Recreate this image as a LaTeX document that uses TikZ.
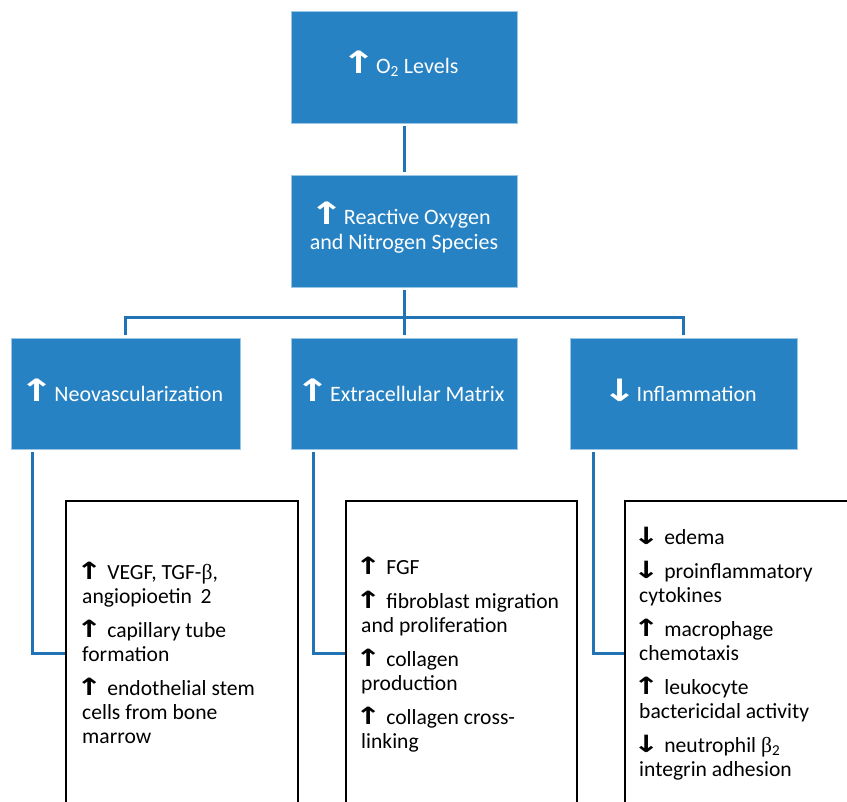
\documentclass[tikz,border=0pt]{standalone}
\usepackage{fontspec}
\setmainfont{Carlito}
\newfontfamily\arrfont{DejaVu Sans}
\newfontfamily\grkfont{Liberation Serif}
\definecolor{qqzzcc}{rgb}{0.15,0.51,0.76}
\definecolor{qqttbb}{rgb}{0.13,0.45,0.71}
\definecolor{ddeeff}{rgb}{0.6,0.78,0.9}
% arrows in the lists and in the blue boxes
\newcommand{\upar}{\kern-6pt\scalebox{1.45}[1.1]{\arrfont\bfseries ↑}}
\newcommand{\dnar}{\kern-6pt\scalebox{1.45}[1.1]{\arrfont\bfseries ↓}}
\newcommand{\bupar}{\kern-8pt\smash{\scalebox{1.9}[1.4]{\arrfont\bfseries ↑}}\kern-5.5pt}
\newcommand{\bdnar}{\kern-8pt\smash{\scalebox{1.9}[1.4]{\arrfont\bfseries ↓}}\kern-5.5pt}
\newcommand{\grkb}{{\grkfont β}}

\begin{document}
\begin{tikzpicture}[line cap=butt,line join=miter,x=1pt,y=-1pt,
  bluebox/.style={fill=qqzzcc,draw=ddeeff,line width=0.6pt,text=white,align=center,
    font=\fontsize{22}{25}\selectfont,inner sep=0pt,minimum height=112pt},
  listbox/.style={draw=black,line width=2.8pt,minimum height=330pt},
  listtxt/.style={anchor=north west,align=left,inner sep=0pt,
    font=\fontsize{21.6}{24}\selectfont},
  link/.style={color=qqttbb,line width=3pt,shorten <=3pt,shorten >=3pt}]
\clip(0,0) rectangle (847,802);
% blue boxes
\node[bluebox,minimum width=226pt] (o2) at (404,67) {\bupar\ O\textsubscript{2} Levels};
\node[bluebox,minimum width=226pt] (ros) at (404,231) {\bupar\ Reactive Oxygen\\and Nitrogen Species};
\node[bluebox,minimum width=229pt,minimum height=111pt] (neo) at (125.5,393.5) {\bupar\ Neovascularization};
\node[bluebox,minimum width=226pt,minimum height=111pt] (ecm) at (404,393.5) {\bupar\ Extracellular Matrix};
\node[bluebox,minimum width=227pt,minimum height=111pt] (infl) at (683.5,393.5) {\bdnar\ Inflammation};
% list boxes (run past the bottom edge)
\node[listbox,minimum width=232pt] (lbox) at (182,666) {};
\node[listbox,minimum width=231pt] (mbox) at (461.5,666) {};
\node[listbox,minimum width=245pt] (rbox) at (747.5,666) {};
\node[listtxt] (ltxt) at (82,562) {\upar\ VEGF, TGF-\grkb,\\angiopioetin\,\ 2\\[10pt]
  \upar\ capillary tube\\formation\\[10pt]
  \upar\ endothelial stem\\cells from bone\\marrow};
\node[listtxt] (mtxt) at (361,557) {\upar\ FGF\\[10pt]
  \upar\ fibroblast migration\\and proliferation\\[10pt]
  \upar\ collagen\\production\\[10pt]
  \upar\ collagen cross-\\linking};
\node[listtxt] (rtxt) at (639,527) {\dnar\ edema\\[10pt]
  \dnar\ proinflammatory\\cytokines\\[10pt]
  \upar\ macrophage\\chemotaxis\\[10pt]
  \upar\ leukocyte\\bactericidal activity\\[10pt]
  \dnar\ neutrophil \grkb\textsubscript{2}\\integrin adhesion};
% connectors
\coordinate (fork) at (404,318);
\draw[link] (o2) -- (ros);
\draw[link] (ros) -- (ecm);
\draw[link,shorten >=0pt] (neo.north) |- (fork);
\draw[link,shorten <=0pt] (fork) -| (infl.north);
\coordinate (lj) at (32,653);
\coordinate (mj) at (313,653);
\coordinate (rj) at (593,653);
\draw[link,shorten >=0pt] (neo.south -| lj) -- (lj) -- (lj -| lbox.west);
\draw[link,shorten >=0pt] (ecm.south -| mj) -- (mj) -- (mj -| mbox.west);
\draw[link,shorten >=0pt] (infl.south -| rj) -- (rj) -- (rj -| rbox.west);
\end{tikzpicture}
\end{document}
